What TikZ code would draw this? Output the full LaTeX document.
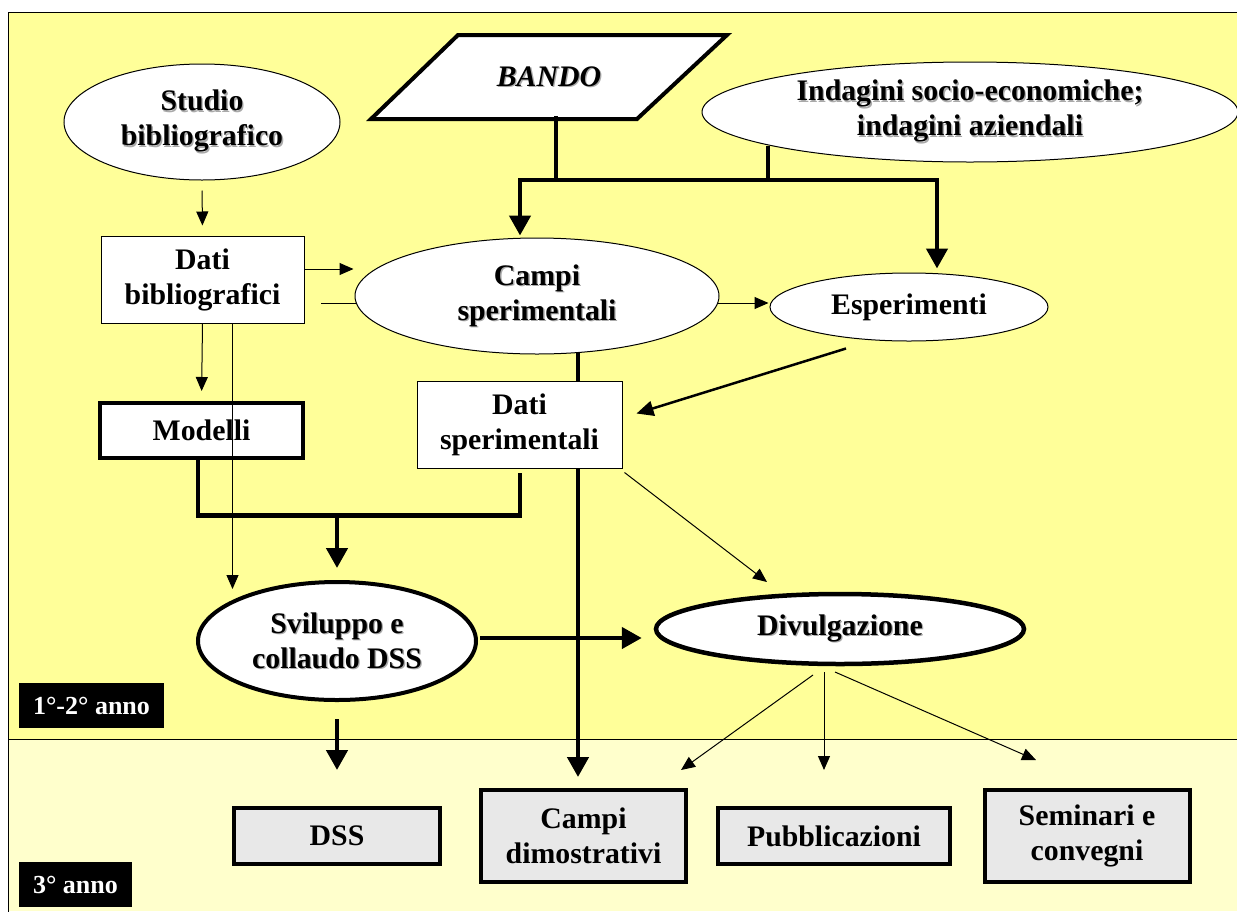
\documentclass[tikz,border=0pt]{standalone}
\usepackage{fontspec}
\setmainfont{Liberation Serif}
\usetikzlibrary{arrows.meta,shapes.geometric,calc}
\pgfdeclarelayer{bg}
\pgfdeclarelayer{under}
\pgfsetlayers{bg,under,main}
\definecolor{topyellow}{HTML}{FFFF99}
\definecolor{lowyellow}{HTML}{FFFFCC}
\definecolor{boxgray}{HTML}{E8E8E8}
\definecolor{shadowc}{HTML}{AAAAAA}
\newcommand\shd[1]{\leavevmode\rlap{\hspace{1.3pt}\raisebox{-1.3pt}{\textcolor{shadowc}{#1}}}#1}
\begin{document}
\begin{tikzpicture}[x=1pt,y=-1pt,
 txt/.style={font=\fontsize{29.8pt}{35pt}\selectfont\bfseries, align=center, text=black},
 ell/.style={txt, ellipse, draw, fill=white, line width=1pt, inner sep=0pt},
 ellthick/.style={ell, line width=4pt},
 box/.style={txt, rectangle, draw, fill=white, line width=1pt, inner sep=0pt},
 boxthick/.style={box, line width=4pt},
 graybox/.style={box, line width=4pt, fill=boxgray},
 tag/.style={rectangle, fill=black, text=white, inner sep=0pt, font=\fontsize{26pt}{30pt}\selectfont\bfseries},
 thinarr/.style={line width=1pt, -{Triangle[length=14pt,width=12pt]}},
 thk/.style={line width=4.5pt, line join=miter},
 thkarr/.style={thk, -{Triangle[length=20pt,width=21pt]}},
 medarr/.style={line width=2.5pt, -{Triangle[length=17pt,width=15pt]}},
]
\useasboundingbox (0,0) rectangle (1237,911);
\begin{pgfonlayer}{bg}
  \fill[white] (0,0) rectangle (1237,911);
  \fill[topyellow] (8,12) rectangle (1237,739);
  \fill[lowyellow] (8,739) rectangle (1237,911);
  \draw[line width=1pt] (1245,12) -- (8,12) -- (8,920);
  \draw[line width=1pt] (8,739) -- (1245,739);
\end{pgfonlayer}

% nodes
\node[ell, minimum width=276pt, minimum height=116pt] (studio) at (202,122) {\shd{Studio}\\\shd{bibliografico}};
\draw[line width=4pt, fill=white, line join=miter] (458,35) -- (727,35) -- (637,119) -- (371,119) -- cycle;
\node[txt] (bando) at (549,77) {\shd{\textit{BANDO}}};
\coordinate (bandob) at (556,116);
\node[ell, minimum width=536pt, minimum height=100pt] (indag) at (970,112) {\shd{Indagini socio-economiche;}\\\shd{indagini aziendali}};
\node[box, minimum width=203pt, minimum height=87pt] (dbib) at (202.5,279.5) {Dati\\bibliografici};
\node[ell, minimum width=364pt, minimum height=116pt] (campi) at (537,296) {\shd{Campi}\\\shd{sperimentali}};
\node[ell, minimum width=278pt, minimum height=68pt] (esper) at (909,307) {Esperimenti};
\node[boxthick, minimum width=203pt, minimum height=55pt] (modelli) at (201.5,430.5) {Modelli};
\node[box, minimum width=205pt, minimum height=87pt] (dsper) at (519.5,424.5) {Dati\\sperimentali};
\node[ellthick, minimum width=278pt, minimum height=118pt] (svil) at (337,641) {\shd{Sviluppo e}\\\shd{collaudo DSS}};
\node[ellthick, line width=4.5pt, minimum width=368pt, minimum height=70pt] (divulg) at (840,629) {\shd{Divulgazione}};
\node[tag, minimum width=145pt, minimum height=45pt] (lab12) at (91.5,705.5) {1°-2° anno};
\node[tag, minimum width=113pt, minimum height=45pt] (lab3) at (75.5,884.5) {3° anno};
\node[graybox, minimum width=206pt, minimum height=56pt] (dss) at (337,836) {DSS};
\node[graybox, minimum width=205pt, minimum height=92pt] (cdim) at (583.5,836) {Campi\\dimostrativi};
\node[graybox, minimum width=232pt, minimum height=56pt] (pubb) at (834,836) {Pubblicazioni};
\node[graybox, minimum width=205pt, minimum height=92pt] (semin) at (1087,836) {Seminari e\\convegni};

% connectors beneath nodes
\coordinate (l1) at (321,303);
\coordinate (c7) at ($(campi.center)+(41,0)$);
\begin{pgfonlayer}{under}
  \draw[thinarr] (l1) -- ($(l1 -| esper.west)+(-1,0)$);
  \draw[thkarr] (c7) -- ($(c7 |- cdim.north)+(0,-11)$);
\end{pgfonlayer}

% thin connectors
\draw[thinarr, shorten <=10pt, shorten >=10pt] (studio.south) -- (dbib.north);
\draw[thinarr] ($(dbib.east)+(0,-10.5)$) -- ($(dbib.east -| campi.west)+(-1,-10.5)$);
\draw[thinarr, shorten >=10pt] (dbib.south) -- (modelli.north);
\coordinate (d5) at ($(dbib.south)+(30,0)$);
\draw[thinarr] (d5) -- ($(d5 |- svil.north)+(0,9)$);

% thick tree from BANDO / Indagini
\coordinate (jl) at (520,180);
\coordinate (jr) at (937,180);
\coordinate (ib) at (768,146);
\draw[thk] (bandob) -- (bandob |- jl);
\draw[thk] (ib) -- (ib |- jl);
\draw[thkarr] (jr) -- (jl) -- ($(jl |- campi.north)+(0,-2)$);
\draw[thkarr] (jl) -- (jr) -- ($(jr |- esper.north)+(0,-4)$);

% Esperimenti -> Dati sperimentali
\draw[medarr] ($(esper.south)+(-63,7)$) -- ($(dsper.east)+(14,-11)$);

% Modelli + Dati sperimentali -> Sviluppo
\coordinate (jm) at (337,515);
\draw[thk] ($(modelli.south)+(-3.5,0)$) |- ($(dsper.south)+(0.5,47)$) -- ($(dsper.south)+(0.5,4)$);
\draw[thkarr] (jm) -- ($(svil.north)+(0,-12)$);

% Dati sperimentali -> Divulgazione
\draw[thinarr] ($(dsper.south east)+(2,4)$) -- ($(divulg.center)+(-73,-47)$);

% Sviluppo -> Divulgazione
\draw[thkarr] ($(svil.east)+(2,-3)$) -- ($(svil.east -| divulg.west)+(-12,-3)$);

% Sviluppo -> DSS
\draw[thkarr] ($(svil.south)+(0,17)$) -- ($(dss.north)+(0,-36)$);

% Divulgazione -> outputs
\draw[thinarr] ($(divulg.center)+(-27,46)$) -- ($(cdim.north east)+(-7,-18)$);
\draw[thinarr] ($(divulg.center)+(-16,43)$) -- ($(pubb.north)+(-10,-36)$);
\draw[thinarr] ($(divulg.center)+(-5,43)$) -- ($(semin.north)+(-51,-28)$);
\end{tikzpicture}
\end{document}
